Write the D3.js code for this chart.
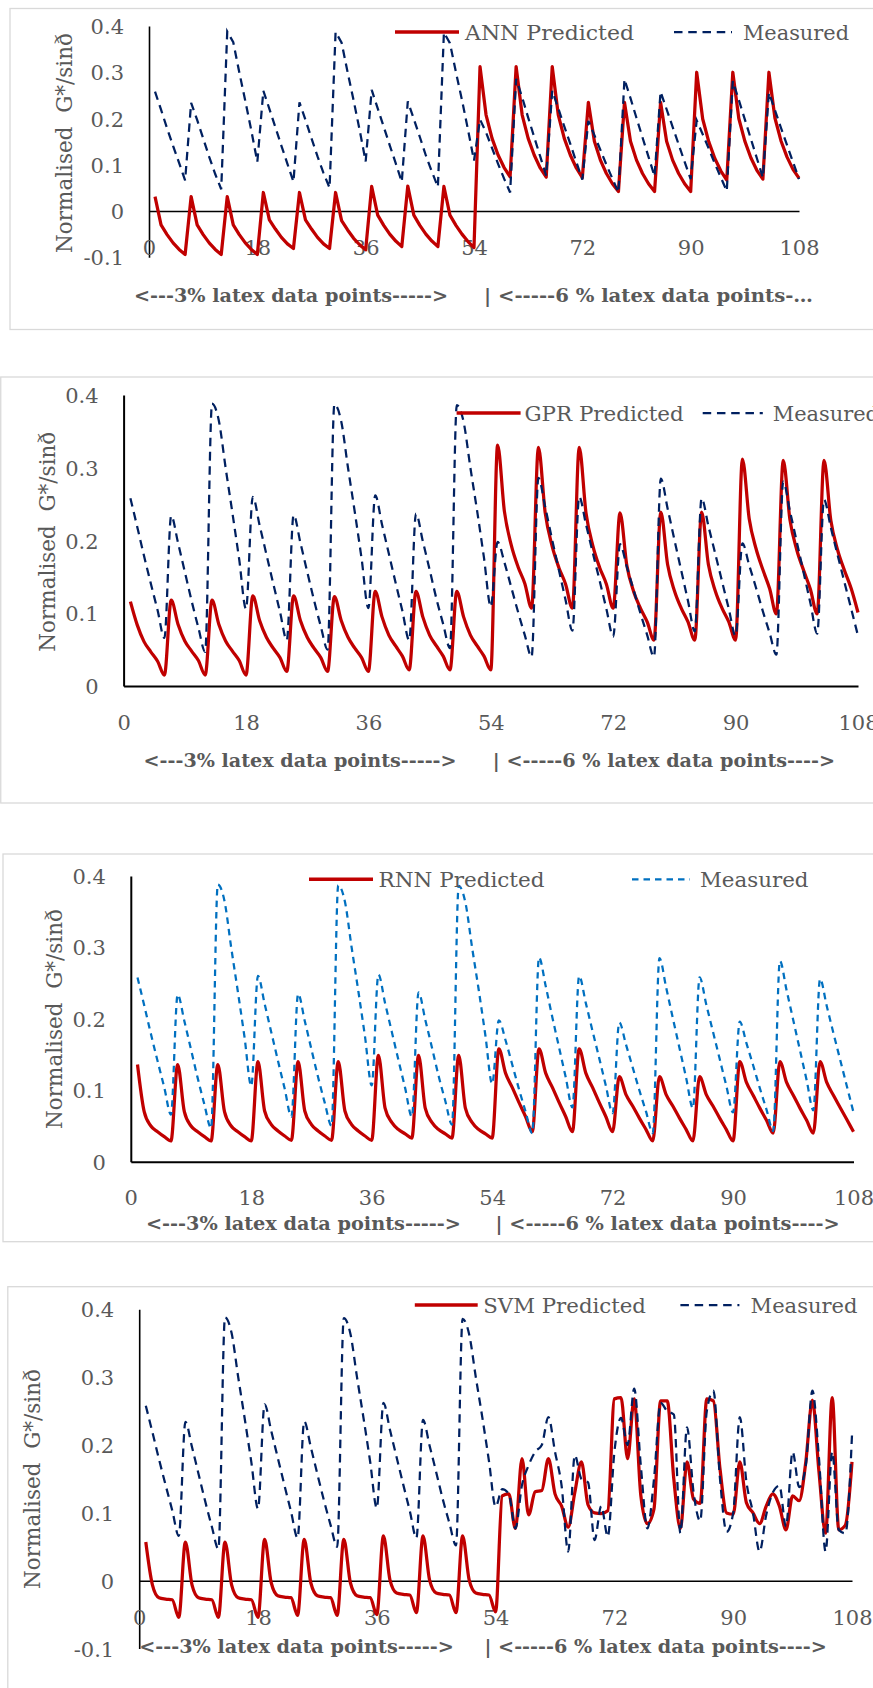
<!DOCTYPE html>
<html>
<head>
<meta charset="utf-8">
<script src="https://cdn.jsdelivr.net/npm/d3@7"></script>
<style>
  body { margin: 0; background: #fff; }
  svg text { font-family: "DejaVu Serif", serif; fill: #595959; }
</style>
</head>
<body>
<script>
// x positions are the data point numbers 1..108, ticks every 18
const xTicks = [0, 18, 36, 54, 72, 90, 108]
const yTicksNeg = [-0.1, 0, 0.1, 0.2, 0.3, 0.4]
const yTicksPos = [0, 0.1, 0.2, 0.3, 0.4]

// measured G*/sin(delta), 18 groups of 6 (3% latex: 1-54, 6% latex: 55-108)
const measured = [
  0.258, 0.219, 0.179, 0.141, 0.104, 0.066,
  0.234, 0.197, 0.157, 0.117, 0.080, 0.047,
  0.388, 0.365, 0.300, 0.238, 0.174, 0.106,
  0.260, 0.221, 0.181, 0.141, 0.102, 0.063,
  0.235, 0.197, 0.157, 0.118, 0.082, 0.050,
  0.387, 0.364, 0.300, 0.239, 0.175, 0.107,
  0.262, 0.222, 0.182, 0.142, 0.103, 0.063,
  0.237, 0.199, 0.160, 0.120, 0.085, 0.052,
  0.386, 0.363, 0.300, 0.240, 0.176, 0.109,
  0.198, 0.170, 0.136, 0.102, 0.070, 0.040,
  0.286, 0.246, 0.202, 0.160, 0.118, 0.076,
  0.260, 0.222, 0.183, 0.145, 0.106, 0.068,
  0.195, 0.164, 0.132, 0.100, 0.070, 0.040,
  0.285, 0.244, 0.201, 0.159, 0.117, 0.075,
  0.258, 0.220, 0.182, 0.144, 0.106, 0.069,
  0.196, 0.166, 0.135, 0.103, 0.073, 0.043,
  0.281, 0.240, 0.198, 0.156, 0.114, 0.072,
  0.256, 0.218, 0.180, 0.143, 0.106, 0.069
]

const annPredicted = [
  0.031, -0.030, -0.051, -0.069, -0.083, -0.094,
  0.031, -0.030, -0.051, -0.069, -0.083, -0.094,
  0.031, -0.030, -0.051, -0.069, -0.083, -0.094,
  0.040, -0.019, -0.039, -0.057, -0.071, -0.081,
  0.040, -0.019, -0.039, -0.057, -0.071, -0.081,
  0.040, -0.021, -0.041, -0.059, -0.073, -0.084,
  0.053, -0.009, -0.031, -0.050, -0.065, -0.077,
  0.054, -0.009, -0.031, -0.050, -0.065, -0.077,
  0.053, -0.009, -0.031, -0.050, -0.066, -0.079,
  0.312, 0.208, 0.157, 0.121, 0.094, 0.074,
  0.312, 0.208, 0.157, 0.121, 0.093, 0.073,
  0.312, 0.208, 0.157, 0.121, 0.093, 0.072,
  0.235, 0.151, 0.110, 0.081, 0.059, 0.042,
  0.235, 0.151, 0.110, 0.081, 0.059, 0.042,
  0.235, 0.151, 0.110, 0.081, 0.059, 0.042,
  0.300, 0.199, 0.150, 0.114, 0.087, 0.067,
  0.300, 0.200, 0.151, 0.115, 0.088, 0.069,
  0.300, 0.201, 0.152, 0.117, 0.090, 0.071
]

const gprPredicted = [
  0.116, 0.084, 0.061, 0.047, 0.034, 0.015,
  0.118, 0.085, 0.062, 0.048, 0.035, 0.015,
  0.118, 0.085, 0.062, 0.048, 0.035, 0.015,
  0.124, 0.090, 0.067, 0.052, 0.039, 0.020,
  0.124, 0.090, 0.067, 0.052, 0.039, 0.020,
  0.123, 0.090, 0.067, 0.052, 0.039, 0.020,
  0.130, 0.095, 0.070, 0.055, 0.041, 0.022,
  0.130, 0.095, 0.070, 0.055, 0.041, 0.022,
  0.130, 0.095, 0.070, 0.055, 0.041, 0.022,
  0.331, 0.240, 0.194, 0.164, 0.141, 0.107,
  0.328, 0.238, 0.193, 0.163, 0.140, 0.107,
  0.328, 0.238, 0.193, 0.163, 0.140, 0.107,
  0.238, 0.166, 0.130, 0.107, 0.088, 0.063,
  0.239, 0.167, 0.131, 0.107, 0.088, 0.063,
  0.239, 0.167, 0.131, 0.107, 0.088, 0.063,
  0.312, 0.230, 0.189, 0.160, 0.134, 0.099,
  0.310, 0.228, 0.187, 0.159, 0.133, 0.099,
  0.310, 0.228, 0.187, 0.159, 0.134, 0.101
]

const rnnPredicted = [
  0.136, 0.070, 0.050, 0.042, 0.035, 0.029,
  0.136, 0.070, 0.050, 0.042, 0.035, 0.029,
  0.136, 0.070, 0.050, 0.042, 0.035, 0.029,
  0.140, 0.071, 0.052, 0.043, 0.036, 0.030,
  0.140, 0.071, 0.052, 0.043, 0.036, 0.030,
  0.140, 0.071, 0.052, 0.043, 0.036, 0.030,
  0.149, 0.075, 0.055, 0.045, 0.039, 0.033,
  0.149, 0.075, 0.055, 0.045, 0.039, 0.033,
  0.149, 0.075, 0.055, 0.045, 0.039, 0.033,
  0.158, 0.124, 0.104, 0.083, 0.063, 0.042,
  0.158, 0.124, 0.104, 0.083, 0.063, 0.042,
  0.158, 0.124, 0.104, 0.083, 0.063, 0.042,
  0.119, 0.094, 0.078, 0.061, 0.045, 0.029,
  0.119, 0.094, 0.078, 0.061, 0.045, 0.029,
  0.119, 0.094, 0.078, 0.061, 0.045, 0.029,
  0.140, 0.111, 0.093, 0.075, 0.058, 0.040,
  0.140, 0.111, 0.093, 0.075, 0.058, 0.040,
  0.140, 0.111, 0.093, 0.076, 0.059, 0.042
]

const svmPredicted = [
  0.057, -0.006, -0.025, -0.027, -0.028, -0.054,
  0.057, -0.006, -0.025, -0.027, -0.028, -0.054,
  0.057, -0.006, -0.025, -0.027, -0.028, -0.054,
  0.061, -0.003, -0.022, -0.024, -0.025, -0.051,
  0.061, -0.003, -0.022, -0.024, -0.025, -0.051,
  0.061, -0.003, -0.022, -0.024, -0.025, -0.050,
  0.066, 0.001, -0.018, -0.020, -0.021, -0.047,
  0.066, 0.001, -0.018, -0.020, -0.021, -0.047,
  0.066, 0.001, -0.018, -0.020, -0.021, -0.046,
  0.125, 0.128, 0.077, 0.180, 0.097, 0.131,
  0.133, 0.180, 0.128, 0.110, 0.079, 0.130,
  0.175, 0.112, 0.100, 0.099, 0.103, 0.268,
  0.270, 0.180, 0.268, 0.126, 0.084, 0.106,
  0.265, 0.265, 0.150, 0.077, 0.175, 0.120,
  0.114, 0.268, 0.265, 0.165, 0.100, 0.098,
  0.175, 0.115, 0.100, 0.084, 0.110, 0.128,
  0.110, 0.075, 0.125, 0.118, 0.175, 0.266,
  0.160, 0.070, 0.270, 0.075, 0.082, 0.175
]

// the SVM chart shows the 6% measured points in another order
const svmMeasured6 = [
  0.135, 0.128, 0.077, 0.141, 0.170, 0.190,
  0.200, 0.241, 0.190, 0.140, 0.043, 0.185,
  0.150, 0.145, 0.060, 0.110, 0.065, 0.190,
  0.240, 0.200, 0.283, 0.170, 0.077, 0.150,
  0.262, 0.250, 0.245, 0.070, 0.226, 0.130,
  0.088, 0.250, 0.280, 0.150, 0.072, 0.100,
  0.241, 0.146, 0.100, 0.043, 0.097, 0.130,
  0.140, 0.080, 0.190, 0.138, 0.170, 0.280,
  0.180, 0.043, 0.190, 0.075, 0.070, 0.215
]
const svmMeasured = measured.slice(0, 54).concat(svmMeasured6)

// smoothed lines without overshoot past the plotted points
const smooth = d3.curveMonotoneX

const charts = [
  { pred: annPredicted, meas: measured, name: 'ANN Predicted', curve: d3.curveLinear,
    box: [10, 8.5, 900, 321], x0: 149, x1: 799, yTicks: yTicksNeg, yLow: 257.25, yHigh: 26,
    axisW: 1.6, xLab: 36, measColor: '#002060', dash: '8.5,5.75',
    leg: { y: 32, r: [395, 459], t: [465, 634], d: [674, 732], m: [743, 849] },
    title: { x: 72.4, y: 143 }, catY: 301.7, cat1: [134, 448], cat2: [484, 813],
    cat2Text: '| <-----6 % latex data points-\u2026' },
  { pred: gprPredicted, meas: measured, name: 'GPR Predicted', curve: smooth,
    box: [0.75, 377, 900, 426], x0: 123.6, x1: 858, yTicks: yTicksPos, yLow: 686, yHigh: 395,
    axisW: 2, xLab: 36.7, measColor: '#002060', dash: '8.5,5.75',
    leg: { y: 413, r: [456.6, 520.6], t: [524.5, 683.7], d: [702.7, 762.8], m: [772.8, 879] },
    title: { x: 54.5, y: 541.7 }, catY: 767.3, cat1: [143.6, 456.6], cat2: [492.8, 835],
    cat2Text: '| <-----6 % latex data points---->' },
  { pred: rnnPredicted, meas: measured, name: 'RNN Predicted', curve: smooth,
    box: [3, 854, 900, 387.7], x0: 130.8, x1: 853.5, yTicks: yTicksPos, yLow: 1161.7, yHigh: 876,
    axisW: 2, xLab: 35.3, measColor: '#0070C0', dash: '6.5,5',
    leg: { y: 879.3, r: [309, 373], t: [378.6, 544.5], d: [632, 690], m: [700, 808.5] },
    title: { x: 62, y: 1019 }, catY: 1230, cat1: [145.9, 461], cat2: [495.5, 839.6],
    cat2Text: '| <-----6 % latex data points---->' },
  { pred: svmPredicted, meas: svmMeasured, name: 'SVM Predicted', curve: smooth,
    box: [7.8, 1286.7, 900, 500], x0: 139.2, x1: 852, yTicks: yTicksNeg, yLow: 1648.6, yHigh: 1309.3,
    axisW: 1.6, xLab: 36.6, measColor: '#002060', dash: '8.5,5.75',
    leg: { y: 1305, r: [414.8, 477.7], t: [483.3, 646], d: [680.4, 739.4], m: [750.6, 857.5] },
    title: { x: 39.5, y: 1479 }, catY: 1653.3, cat1: [139.2, 453.8], cat2: [484.4, 826.8],
    cat2Text: '| <-----6 % latex data points---->' }
]

const svg = d3.select('body').append('svg')
  .attr('width', 873)
  .attr('height', 1688)

function drawChart(c) {
  const g = svg.append('g')

  // panel frame
  g.append('rect')
    .attr('x', c.box[0]).attr('y', c.box[1])
    .attr('width', c.box[2]).attr('height', c.box[3])
    .attr('fill', 'none').attr('stroke', '#d9d9d9').attr('stroke-width', 1.3)

  const x = d3.scaleLinear().domain([0, 108]).range([c.x0, c.x1])
  const y = d3.scaleLinear().domain([c.yTicks[0], 0.4]).range([c.yLow, c.yHigh])

  // y axis
  const yAxis = g.append('g')
    .attr('transform', `translate(${c.x0},0)`)
    .call(d3.axisLeft(y).tickValues(c.yTicks).tickSize(0).tickPadding(25).tickFormat(d => String(d)))
  yAxis.select('.domain').attr('stroke', '#000').attr('stroke-width', c.axisW)
  yAxis.selectAll('text').style('font-size', '21px').attr('dy', '0.36em')

  // x axis sits on zero
  const xAxis = g.append('g')
    .attr('transform', `translate(0,${y(0)})`)
    .call(d3.axisBottom(x).tickValues(xTicks).tickSize(0))
  xAxis.select('.domain').attr('stroke', '#000').attr('stroke-width', c.axisW)
  xAxis.selectAll('text').style('font-size', '21px').attr('y', c.xLab).attr('dy', '0.36em')

  // y title
  g.append('text')
    .attr('transform', `translate(${c.title.x},${c.title.y}) rotate(-90)`)
    .attr('text-anchor', 'middle')
    .attr('textLength', 220)
    .attr('lengthAdjust', 'spacingAndGlyphs')
    .style('font-size', '22px')
    .style('white-space', 'pre')
    .text('Normalised  G*/sin\u00f0')

  // category strip under the axis
  g.append('text')
    .attr('x', c.cat1[0]).attr('y', c.catY)
    .attr('textLength', c.cat1[1] - c.cat1[0])
    .attr('lengthAdjust', 'spacingAndGlyphs')
    .style('font-size', '19px').style('font-weight', 'bold')
    .text('<---3% latex data points----->')
  g.append('text')
    .attr('x', c.cat2[0]).attr('y', c.catY)
    .attr('textLength', c.cat2[1] - c.cat2[0])
    .attr('lengthAdjust', 'spacingAndGlyphs')
    .style('font-size', '19px').style('font-weight', 'bold')
    .text(c.cat2Text)

  const line = d3.line()
    .x((d, i) => x(i + 1))
    .y(d => y(d))
    .curve(c.curve)

  g.append('path')
    .datum(c.pred)
    .attr('d', line)
    .attr('fill', 'none')
    .attr('stroke', '#C00000')
    .attr('stroke-width', 3.25)
    .attr('stroke-linejoin', 'round')

  g.append('path')
    .datum(c.meas)
    .attr('d', line)
    .attr('fill', 'none')
    .attr('stroke', c.measColor)
    .attr('stroke-width', 2.25)
    .attr('stroke-dasharray', c.dash)

  // legend
  const lg = g.append('g')
  lg.append('line')
    .attr('x1', c.leg.r[0]).attr('x2', c.leg.r[1])
    .attr('y1', c.leg.y).attr('y2', c.leg.y)
    .attr('stroke', '#C00000').attr('stroke-width', 3.5)
  lg.append('text')
    .attr('x', c.leg.t[0]).attr('y', c.leg.y + 7.6)
    .attr('textLength', c.leg.t[1] - c.leg.t[0])
    .attr('lengthAdjust', 'spacingAndGlyphs')
    .style('font-size', '21px')
    .text(c.name)
  lg.append('line')
    .attr('x1', c.leg.d[0]).attr('x2', c.leg.d[1])
    .attr('y1', c.leg.y).attr('y2', c.leg.y)
    .attr('stroke', c.measColor).attr('stroke-width', 2.25)
    .attr('stroke-dasharray', c.dash)
  lg.append('text')
    .attr('x', c.leg.m[0]).attr('y', c.leg.y + 7.6)
    .attr('textLength', c.leg.m[1] - c.leg.m[0])
    .attr('lengthAdjust', 'spacingAndGlyphs')
    .style('font-size', '21px')
    .text('Measured')
}

charts.forEach(drawChart)
</script>
</body>
</html>
